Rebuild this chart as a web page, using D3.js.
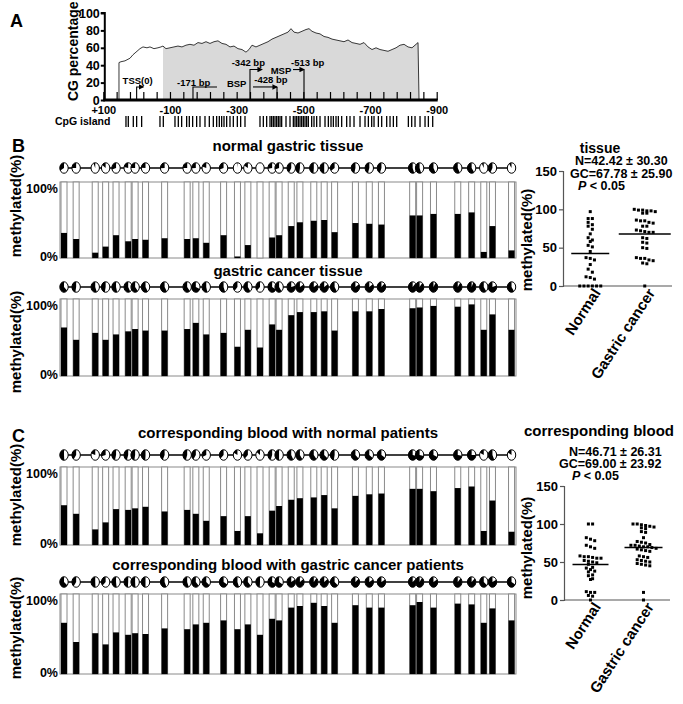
<!DOCTYPE html>
<html>
<head>
<meta charset="utf-8">
<script src="https://cdn.jsdelivr.net/npm/d3@7"></script>
<style>
  body { margin: 0; background: #fff; }
  svg { display: block; font-family: "Liberation Sans", Arial, sans-serif; font-weight: bold; }
  svg text { font-family: "Liberation Sans", Arial, sans-serif; font-weight: bold; }
</style>
</head>
<body>
<svg id="fig" width="683" height="704"></svg>
<script>
// ---- data ----

// Panel A: CG percentage along the promoter (bp relative to TSS)
const cgPos = [53, 53, 47, 35, 20, 11, 2, -10, -19, -31, -40, -52, -64, -73, -79, -88, -100, -112, -124, -136,
  -148, -160, -172, -184, -196, -208, -220, -232, -244, -256, -268, -280, -292, -304, -316, -328, -337, -346,
  -358, -370, -382, -394, -406, -418, -430, -442, -454, -463, -472, -484, -496, -508, -517, -526, -538, -550,
  -562, -574, -586, -598, -610, -622, -634, -646, -658, -670, -682, -694, -706, -718, -730, -742, -754, -766,
  -778, -790, -802, -814, -826, -838, -844, -847];
const cgVal = [0, 43, 44, 45, 48, 52, 55, 59, 61, 60, 61, 59, 60, 61, 62, 59, 60, 61, 62, 61,
  63, 64, 63, 66, 65, 67, 65, 67, 68, 65, 64, 61, 62, 59, 58, 55, 58, 63,
  61, 63, 65, 67, 70, 72, 74, 76, 78, 82, 78, 77, 79, 81, 82, 79, 77, 76,
  73, 72, 70, 69, 68, 67, 69, 66, 65, 64, 66, 61, 58, 60, 58, 57, 56, 58,
  60, 63, 64, 61, 60, 64, 66, 0];
const islandRange = [-79, -847];
const yTickValues = [0, 20, 40, 60, 80, 100];
const xTickLabels = [100, -100, -300, -500, -700, -900];
const cpgIsland = [32, 25, 10, 0, -15, -70, -80, -115, -125, -135, -150, -158, -168, -180, -190, -205, -218,
  -230, -240, -248, -255, -262, -270, -280, -290, -302, -312, -325, -370, -380, -390, -400, -405, -410, -415,
  -420, -425, -430, -435, -448, -460, -470, -475, -480, -485, -490, -495, -500, -505, -510, -515, -525, -532,
  -540, -550, -565, -575, -583, -590, -598, -605, -615, -630, -640, -652, -670, -685, -695, -705, -712, -725,
  -735, -750, -760, -770, -780, -815, -825, -835, -850, -865, -875, -888];
// primer marks: from axis at pos up to level (%), then across to end
const primerMarks = [
  { pos: 0, end: -20, level: 15, arrow: "end" },
  { pos: -169, end: -241, level: 15, arrow: "none" },
  { pos: -340, end: -376, level: 35, arrow: "end" },
  { pos: -421, end: -349, level: 15, arrow: "corner" },
  { pos: -502, end: -469, level: 35, arrow: "corner" }
];
const primerLabels = [
  { text: "TSS(0)", pos: -3, level: 18 },
  { text: "-171 bp", pos: -171, level: 16 },
  { text: "BSP", pos: -300, level: 15 },
  { text: "-342 bp", pos: -335, level: 39 },
  { text: "-428 bp", pos: -403, level: 19 },
  { text: "MSP", pos: -433, level: 30 },
  { text: "-513 bp", pos: -513, level: 39 }
];

// Panels B/C: 34 CpG sites in the BSP amplicon (bp offset from first site)
const siteOffsets = [0, 7, 18, 24, 30, 37, 41, 47, 58, 71, 76, 82, 92, 100, 106, 113, 120, 124, 131, 136,
  144, 150, 156, 168, 176, 183, 201, 205, 213, 227, 235, 242, 247, 258];
const normalTissue = [0.33, 0.25, 0.07, 0.15, 0.30, 0.22, 0.25, 0.24, 0.26, 0.25, 0.26, 0.20, 0.30, 0.02, 0.17,
  0.00, 0.27, 0.30, 0.42, 0.47, 0.49, 0.50, 0.34, 0.46, 0.45, 0.44, 0.56, 0.56, 0.58, 0.58, 0.60, 0.08, 0.42, 0.10];
const cancerTissue = [0.63, 0.47, 0.56, 0.47, 0.54, 0.58, 0.61, 0.59, 0.59, 0.61, 0.69, 0.54, 0.56, 0.38, 0.60,
  0.37, 0.67, 0.60, 0.79, 0.83, 0.83, 0.84, 0.59, 0.84, 0.84, 0.87, 0.88, 0.89, 0.91, 0.90, 0.93, 0.60, 0.80, 0.60];
const normalBlood = [0.51, 0.40, 0.20, 0.29, 0.46, 0.45, 0.47, 0.49, 0.43, 0.45, 0.40, 0.31, 0.37, 0.18, 0.37,
  0.15, 0.44, 0.50, 0.58, 0.60, 0.61, 0.64, 0.47, 0.63, 0.65, 0.66, 0.72, 0.72, 0.69, 0.73, 0.75, 0.18, 0.57, 0.17];
const cancerBlood = [0.64, 0.40, 0.51, 0.37, 0.52, 0.49, 0.51, 0.50, 0.57, 0.56, 0.62, 0.64, 0.67, 0.56, 0.62,
  0.49, 0.69, 0.67, 0.83, 0.85, 0.89, 0.85, 0.64, 0.86, 0.83, 0.83, 0.86, 0.90, 0.83, 0.88, 0.87, 0.64, 0.82, 0.67];

// scatter plots (per patient, %)
const groups = ["Normal", "Gastric cancer"];
const tissueNormalPts = [97, 88, 88, 83, 80, 78, 74, 68, 63, 60, 58, 53, 51, 45, 37, 36, 34, 28, 22, 18, 12, 11, 9,
  0, 0, 0, 0, 0, 0];
const tissueCancerPts = [100, 99, 99, 98, 98, 97, 95, 95, 86, 85, 85, 83, 82, 78, 78, 73, 72, 71, 70, 70, 63, 62,
  57, 56, 50, 49, 37, 36, 36, 34, 33, 30, 29, 0];
const bloodNormalPts = [100, 100, 82, 80, 78, 72, 70, 68, 58, 57, 57, 56, 55, 55, 52, 51, 50, 49, 47, 43, 42, 40,
  38, 37, 33, 32, 28, 27, 11, 10, 10, 6, 5, 0];
const bloodCancerPts = [100, 100, 99, 98, 97, 96, 95, 94, 90, 89, 82, 77, 76, 75, 73, 72, 72, 71, 70, 70, 69, 68,
  67, 66, 65, 64, 58, 57, 56, 53, 52, 51, 50, 48, 47, 46, 45, 10, 0];
const tissueMeans = [42.42, 67.78];
const bloodMeans = [46.71, 69.00];
const tissueStats = ["N=42.42 ± 30.30", "GC=67.78 ± 25.90"];
const bloodStats = ["N=46.71 ± 26.31", "GC=69.00 ± 23.92"];

const svg = d3.select("#fig");

// panel letters
[["A", 10, 27], ["B", 12, 152], ["C", 12, 442]].forEach(([t, x, y]) => {
  svg.append("text").attr("x", x).attr("y", y).style("font-size", "18px").text(t);
});

// ===== Panel A =====
const xA = d3.scaleLinear().domain([100, -900]).range([103.3, 436.7]);
const yA = d3.scaleLinear().domain([0, 100]).range([100, 13]);
const gA = svg.append("g");

svg.append("defs").append("clipPath").attr("id", "island")
  .append("rect")
  .attr("x", xA(islandRange[0])).attr("y", 0)
  .attr("width", xA(islandRange[1]) - xA(islandRange[0])).attr("height", 110);

const cgData = cgPos.map((p, i) => ({ p, v: cgVal[i] }));
gA.append("path")
  .datum(cgData)
  .attr("clip-path", "url(#island)")
  .attr("fill", "#d9d9d9")
  .attr("d", d3.area().x(d => xA(d.p)).y0(yA(0)).y1(d => yA(d.v)));
gA.append("path")
  .datum(cgData)
  .attr("fill", "none")
  .attr("stroke", "#222")
  .attr("stroke-width", 0.9)
  .attr("d", d3.line().x(d => xA(d.p)).y(d => yA(d.v)));

// y axis (ticks from the axis, labels written next to it)
const yAxisX = xA(100) + 1.5;
const yAxisA = gA.append("g")
  .attr("transform", `translate(${yAxisX},0)`)
  .call(d3.axisLeft(yA).tickValues(yTickValues).tickSize(4).tickFormat(""));
yAxisA.selectAll("path,line").attr("stroke", "#000").attr("stroke-width", 2);
yAxisA.select(".domain").attr("d", `M-4,${yA(100)}H0V${yA(0)}`);
gA.selectAll(".ylab").data(yTickValues).join("text")
  .attr("x", yAxisX - 5).attr("y", d => yA(d)).attr("dy", "0.36em")
  .attr("text-anchor", "end")
  .style("font-size", "12.5px")
  .attr("fill", "#000")
  .text(d => d);

// x axis with upward ticks every 40 bp
const xTicks = d3.range(100, -901, -40);
const xAxisA = gA.append("g")
  .attr("transform", `translate(0,${yA(0)})`)
  .call(d3.axisBottom(xA).tickValues(xTicks).tickSize(-8).tickPadding(6)
    .tickFormat(d => xTickLabels.includes(d) ? (d > 0 ? "+" + d : String(d)) : ""))
  .attr("font-family", null);
xAxisA.select(".domain").attr("stroke", "#000").attr("stroke-width", 3).attr("d", `M${xA(100)},0H${xA(-900) + 1}`);
xAxisA.selectAll("line").attr("stroke", "#000").attr("stroke-width", 1.2);
xAxisA.selectAll("text").style("font-size", "11px").attr("fill", "#000");

gA.append("text")
  .attr("transform", `translate(78,${yA(56)}) rotate(-90)`)
  .attr("text-anchor", "middle")
  .style("font-size", "14px")
  .text("CG percentage");

// primer / TSS marks
svg.append("defs").append("marker")
  .attr("id", "arr").attr("viewBox", "0 0 6 6").attr("refX", 5).attr("refY", 3)
  .attr("markerWidth", 5).attr("markerHeight", 5).attr("orient", "auto")
  .append("path").attr("d", "M0,0L6,3L0,6Z").attr("fill", "#000");

primerMarks.forEach(m => {
  const x0 = xA(m.pos), x1 = xA(m.end), yl = yA(m.level);
  if (m.arrow === "corner") {
    gA.append("path").attr("d", `M${x1},${yl}H${x0}`).attr("stroke", "#000").attr("stroke-width", 1.1)
      .attr("fill", "none").attr("marker-end", "url(#arr)");
    gA.append("path").attr("d", `M${x0},${yA(0)}V${yl}`).attr("stroke", "#000").attr("stroke-width", 1.1);
  } else {
    gA.append("path").attr("d", `M${x0},${yA(0)}V${yl}H${x1}`).attr("stroke", "#000").attr("stroke-width", 1.1)
      .attr("fill", "none").attr("marker-end", m.arrow === "end" ? "url(#arr)" : null);
  }
});
gA.selectAll(".plab").data(primerLabels).join("text")
  .attr("x", d => xA(d.pos)).attr("y", d => yA(d.level))
  .attr("text-anchor", "middle")
  .style("font-size", "9.5px")
  .text(d => d.text);

// CpG island sites
gA.append("text").attr("x", 55).attr("y", 125).style("font-size", "10.5px").text("CpG island");
gA.selectAll(".cpg").data(cpgIsland).join("line")
  .attr("x1", d => xA(d)).attr("x2", d => xA(d))
  .attr("y1", 116).attr("y2", 127)
  .attr("stroke", "#000").attr("stroke-width", 1.3);

// ===== Bar panels (B, C) =====
const xSite = d3.scaleLinear().domain([0, 260]).range([64, 515]);
const barW = 6;
const pie = d3.arc().innerRadius(0).outerRadius(4.2);

const barPanels = [
  { title: "normal gastric tissue", vals: normalTissue, titleY: 151, dotY: 168, top: 182, bottom: 258, labY: 206 },
  { title: "gastric cancer tissue", vals: cancerTissue, titleY: 276, dotY: 287, top: 299, bottom: 376, labY: 342 },
  { title: "corresponding blood with normal patients", vals: normalBlood, titleY: 438, dotY: 455, top: 467, bottom: 545, labY: 495 },
  { title: "corresponding blood with gastric cancer patients", vals: cancerBlood, titleY: 570, dotY: 582, top: 594, bottom: 674, labY: 628 }
];

barPanels.forEach(p => {
  const g = svg.append("g");
  const y = d3.scaleLinear().domain([0, 1]).range([p.bottom, p.top]);
  const rows = siteOffsets.map((s, i) => ({ s, v: p.vals[i] }));

  g.append("text").attr("x", 288).attr("y", p.titleY).attr("text-anchor", "middle")
    .style("font-size", "15px").text(p.title);

  g.append("rect").attr("x", 60).attr("y", p.top).attr("width", 456).attr("height", p.bottom - p.top)
    .attr("fill", "none").attr("stroke", "#8a8a8a").attr("stroke-width", 1);

  g.selectAll(".bg").data(rows).join("rect")
    .attr("x", d => xSite(d.s) - barW / 2).attr("y", p.top)
    .attr("width", barW).attr("height", p.bottom - p.top)
    .attr("fill", "#fff").attr("stroke", "#8a8a8a").attr("stroke-width", 1);
  g.selectAll(".fg").data(rows).join("rect")
    .attr("x", d => xSite(d.s) - barW / 2).attr("y", d => y(d.v))
    .attr("width", barW).attr("height", d => p.bottom - y(d.v))
    .attr("fill", "#000");

  // lollipop row
  g.append("line").attr("x1", xSite(siteOffsets[0])).attr("x2", xSite(siteOffsets[siteOffsets.length - 1]))
    .attr("y1", p.dotY).attr("y2", p.dotY).attr("stroke", "#000").attr("stroke-width", 1.5);
  const glyph = g.selectAll(".glyph").data(rows).join("g")
    .attr("transform", d => `translate(${xSite(d.s)},${p.dotY}) scale(1,1.25)`);
  glyph.append("circle").attr("r", 4.2).attr("fill", "#fff").attr("stroke", "#000")
    .attr("stroke-width", 1).attr("vector-effect", "non-scaling-stroke");
  glyph.append("path").attr("fill", "#000")
    .attr("d", d => pie({ startAngle: -d.v * 2 * Math.PI, endAngle: 0 }));

  const ax = g.append("g").attr("transform", "translate(60,0)")
    .call(d3.axisLeft(y).tickValues([0, 1]).tickSize(0).tickPadding(2).tickFormat(d3.format(".0%")))
    .attr("font-family", null);
  ax.select(".domain").remove();
  ax.selectAll("text").style("font-size", "12.5px").attr("fill", "#000")
    .attr("dy", d => d === 1 ? "0.85em" : "0.2em");

  g.append("text").attr("transform", `translate(21,${p.labY}) rotate(-90)`).attr("text-anchor", "middle")
    .style("font-size", "15px").text("methylated(%)");
});

// ===== Scatter panels =====
function swarm(vals, y, cx, gap, tol) {
  const rows = [];
  vals.slice().sort((a, b) => b - a).forEach(v => {
    const py = y(v);
    let r = rows.find(r => Math.abs(r.y - py) < tol);
    if (!r) { r = { y: py, items: [] }; rows.push(r); }
    r.items.push(py);
  });
  const out = [];
  rows.forEach(r => r.items.forEach((py, i) => out.push({ x: cx + (i - (r.items.length - 1) / 2) * gap, y: py })));
  return out;
}

const scatterPanels = [
  { title: "tissue", titleSize: 14, titleX: 600, titleY: 153, stats: tissueStats, means: tissueMeans,
    pts: [tissueNormalPts, tissueCancerPts], left: 563, right: 672, y0: 286, y150: 171,
    statX: [575, 570, 578], statY: [165, 177.5, 189.5], labY: 240, meanHalf: [19, 26] },
  { title: "corresponding blood", titleSize: 15, titleX: 599, titleY: 436, stats: bloodStats, means: bloodMeans,
    pts: [bloodNormalPts, bloodCancerPts], left: 564, right: 670, y0: 600, y150: 486,
    statX: [569, 559, 572], statY: [456, 468, 480], labY: 548, meanHalf: [18, 19] }
];

scatterPanels.forEach(s => {
  const g = svg.append("g");
  const y = d3.scaleLinear().domain([0, 150]).range([s.y0, s.y150]);
  const x = d3.scalePoint().domain(groups).range([s.left, s.right]).padding(0.5);

  g.append("text").attr("x", s.titleX).attr("y", s.titleY).attr("text-anchor", "middle")
    .style("font-size", s.titleSize + "px").text(s.title);
  s.stats.forEach((t, i) => {
    g.append("text").attr("x", s.statX[i]).attr("y", s.statY[i]).style("font-size", "12.5px").text(t);
  });
  const pt = g.append("text").attr("x", s.statX[2]).attr("y", s.statY[2]).style("font-size", "12.5px");
  pt.append("tspan").style("font-style", "italic").text("P");
  pt.append("tspan").text(" < 0.05");

  const ya = g.append("g").attr("transform", `translate(${s.left},0)`)
    .call(d3.axisLeft(y).tickValues([0, 50, 100, 150]).tickSize(4).tickPadding(2))
    .attr("font-family", null);
  ya.selectAll("path,line").attr("stroke", "#555").attr("stroke-width", 1.2);
  ya.selectAll("text").style("font-size", "13px").attr("fill", "#000");

  const xa = g.append("g").attr("transform", `translate(0,${s.y0})`)
    .call(d3.axisBottom(x).tickSize(0).tickPadding(6))
    .attr("font-family", null);
  xa.select(".domain").attr("stroke", "#555").attr("stroke-width", 1.2).attr("d", `M${s.left},0H${s.right}`);
  xa.selectAll("text")
    .style("font-size", "15px").attr("fill", "#000")
    .attr("text-anchor", "end")
    .attr("transform", "translate(6,4) rotate(-57)")
    .attr("dy", "0.35em").attr("y", 0).attr("x", 0);

  groups.forEach((grp, gi) => {
    const cx = x(grp);
    const dots = swarm(s.pts[gi], y, cx, 4.2, 3.2);
    g.selectAll(".d" + gi).data(dots).join("rect")
      .attr("x", d => d.x - 1.5).attr("y", d => d.y - 1.5).attr("width", 3).attr("height", 3).attr("fill", "#000");
    const h = s.meanHalf[gi];
    g.append("line").attr("x1", cx - h).attr("x2", cx + h)
      .attr("y1", y(s.means[gi])).attr("y2", y(s.means[gi])).attr("stroke", "#000").attr("stroke-width", 1.5);
  });

  g.append("text").attr("transform", `translate(532,${s.labY}) rotate(-90)`).attr("text-anchor", "middle")
    .style("font-size", "15px").text("methylated(%)");
});
</script>
</body>
</html>
